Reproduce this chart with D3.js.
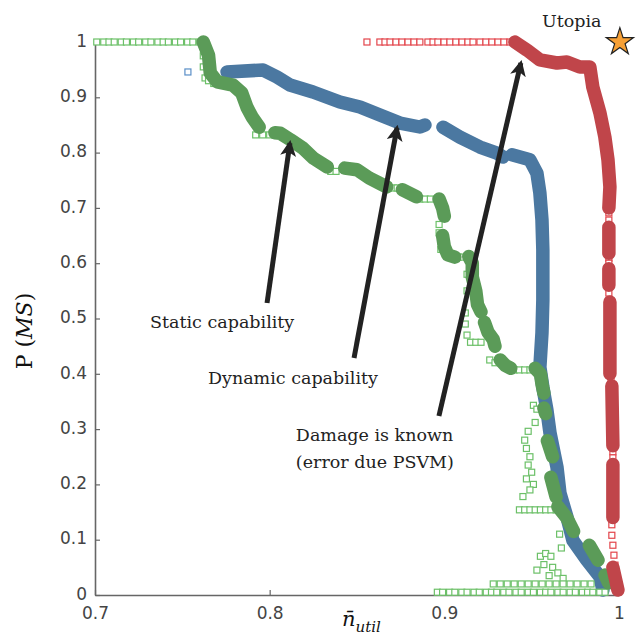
<!DOCTYPE html>
<html>
<head>
<meta charset="utf-8">
<script src="https://cdn.jsdelivr.net/npm/d3@7"></script>
<style>
html,body{margin:0;padding:0;background:#fff;}
svg{display:block;}
</style>
</head>
<body>
<svg id="chart" width="636" height="637"></svg>
<script>
// ---------------- DATA ----------------
const xTicks = [0.7, 0.8, 0.9, 1.0];
const xTickLabels = ["0.7", "0.8", "0.9", "1"];
const yTicks = [0, 0.1, 0.2, 0.3, 0.4, 0.5, 0.6, 0.7, 0.8, 0.9, 1.0];
const yTickLabels = ["0", "0.1", "0.2", "0.3", "0.4", "0.5", "0.6", "0.7", "0.8", "0.9", "1"];

// Static capability (green) – filled markers, null = gap
const staticX = [0.762,0.765,0.766,0.770,0.779,0.784,0.787,0.790,0.794,null,
  0.803,0.806,0.812,0.819,0.825,0.833,null,
  0.843,0.850,0.857,0.867,null,
  0.876,0.884,null,
  0.897,0.899,0.900,null,
  0.899,0.900,0.902,0.906,null,
  0.914,0.916,0.916,0.918,0.919,0.921,null,
  0.923,0.925,0.928,0.929,null,
  0.932,0.935,0.938,null,
  0.952,0.955,0.956,0.957,null,
  0.957,0.958,null,
  0.959,0.962,null,
  0.961,0.964,null,
  0.965,0.970,0.974,null,
  0.983,0.988,null,
  0.992,0.994];
const staticY = [1.000,0.976,0.944,0.928,0.922,0.908,0.882,0.864,0.846,null,
  0.836,0.835,0.823,0.808,0.790,0.774,null,
  0.772,0.769,0.754,0.738,null,
  0.733,0.720,null,
  0.716,0.700,0.685,null,
  0.650,0.630,0.615,0.611,null,
  0.612,0.600,0.575,0.550,0.525,0.512,null,
  0.493,0.475,0.462,0.450,null,
  0.425,0.415,0.410,null,
  0.410,0.400,0.380,0.365,null,
  0.338,0.328,null,
  0.279,0.250,null,
  0.213,0.177,null,
  0.160,0.140,0.115,null,
  0.090,0.063,null,
  0.036,0.022];

// Static capability – hollow markers
const staticHollowX = [0.701,0.705,0.708,0.711,0.715,0.718,0.722,0.725,0.729,0.732,0.736,0.739,0.742,0.746,0.749,0.753,0.756,0.760,
  0.762,0.762,0.763,0.765,0.768,
  0.792,0.796,0.800,
  0.835,0.838,
  0.868,0.871,0.873,
  0.886,0.889,0.892,
  0.897,0.897,0.898,0.898,
  0.908,0.910,
  0.913,0.913,0.912,0.912,0.913,0.915,0.918,0.921,
  0.926,0.929,
  0.940,0.943,0.946,0.949,
  0.951,0.953,0.952,0.948,0.946,0.947,0.949,0.948,0.950,0.947,0.951,0.949,0.945,
  0.943,0.946,0.949,0.952,0.955,0.958,0.961,0.964,
  0.966,0.967,
  0.955,0.958,0.961,0.957,0.962,0.960,0.965,0.968,0.953,
  0.928,0.932,0.936,0.940,0.944,0.948,0.952,0.956,0.960,0.964,0.968,0.972,0.976,0.980,0.984,
  0.896,0.899,0.903,0.906,0.910,0.913,0.917,0.920,0.924,0.927,0.930,0.934,0.937,0.941,0.944,0.948,0.951,0.955,0.958,0.961,0.965,0.968,0.972,0.975,0.979,0.982,0.985,0.989,0.992];
const staticHollowY = [1,1,1,1,1,1,1,1,1,1,1,1,1,1,1,1,1,1,
  0.975,0.955,0.935,0.930,0.925,
  0.832,0.832,0.832,
  0.766,0.766,
  0.736,0.736,0.736,
  0.716,0.716,0.716,
  0.670,0.655,0.640,0.625,
  0.611,0.611,
  0.580,0.550,0.510,0.490,0.470,0.457,0.457,0.457,
  0.425,0.420,
  0.407,0.407,0.407,0.407,
  0.343,0.336,0.312,0.296,0.280,0.265,0.250,0.235,0.222,0.210,0.200,0.190,0.178,
  0.154,0.154,0.154,0.154,0.154,0.154,0.154,0.154,
  0.110,0.085,
  0.070,0.075,0.070,0.055,0.050,0.035,0.040,0.030,0.045,
  0.020,0.020,0.020,0.020,0.020,0.020,0.020,0.020,0.020,0.020,0.020,0.020,0.020,0.020,0.020,
  0.005,0.005,0.005,0.005,0.005,0.005,0.005,0.005,0.005,0.005,0.005,0.005,0.005,0.005,0.005,0.005,0.005,0.005,0.005,0.005,0.005,0.005,0.005,0.005,0.005,0.005,0.005,0.005,0.005];

// Dynamic capability (blue) – filled markers
const dynamicX = [0.7756,0.7962,0.8042,0.8116,0.8248,0.8402,0.8517,0.8631,0.8746,0.8860,0.8889,null,
  0.8992,0.9089,0.9204,0.9301,0.9335,null,
  0.9387,0.9490,0.9530,0.9547,0.9559,0.9564,0.9564,0.9559,0.9547,0.9564,0.9587,0.9605,0.9645,0.9662,0.9702,0.9736,0.9816,0.9891,0.9908];
const dynamicY = [0.9458,0.9494,0.9367,0.9222,0.9096,0.8915,0.8825,0.8680,0.8535,0.8463,0.8500,null,
  0.846,0.828,0.810,0.799,0.792,null,
  0.796,0.787,0.763,0.727,0.678,0.624,0.533,0.474,0.412,0.376,0.335,0.293,0.231,0.184,0.141,0.099,0.063,0.033,0.009];
const dynamicHollowX = [0.7532];
const dynamicHollowY = [0.9458];

// Damage is known (red) – filled markers
const damageX = [0.9404,0.9473,0.9547,0.9645,0.9702,0.9776,0.9833,0.9850,0.9891,0.9919,0.9937,0.9948,0.9942,null,
  0.9942,0.9942,null,
  0.9942,0.9942,null,
  0.9948,0.9948,null,
  0.9959,0.9965,null,
  0.9965,0.9965,null,
  0.9965,0.9994];
const damageY = [1.000,0.9855,0.9675,0.9620,0.9638,0.9548,0.9548,0.9186,0.8716,0.8282,0.7866,0.7378,0.700,null,
  0.665,0.618,null,
  0.590,0.560,null,
  0.530,0.400,null,
  0.378,0.270,null,
  0.236,0.140,null,
  0.050,0.009];
// Damage is known – hollow markers
const damageHollowX = [0.8557,0.8631,0.8660,0.8689,0.8723,0.8757,0.8792,0.8826,0.8860,0.8906,0.8935,0.8963,0.8998,0.9032,0.9066,0.9101,0.9135,0.9164,0.9204,0.9238,0.9272,0.9307,0.9341,0.9376,
  0.9942,0.9942,0.9942,0.9942,0.9942,0.9954,0.9965,0.9965,0.9959,0.9959,0.9965,0.9971,0.9977];
const damageHollowY = [1,1,1,1,1,1,1,1,1,1,1,1,1,1,1,1,1,1,1,1,1,1,1,1,
  0.691,0.678,0.609,0.600,0.546,0.389,0.259,0.248,0.127,0.108,0.090,0.072,0.054];

// Utopia point
const utopiaX = [1.0005];
const utopiaY = [1.0];

// Annotations: text anchor (data coords) and arrow tail/tip (data coords)
const annotationTexts = [["Static capability"], ["Dynamic capability"], ["Damage is known", "(error due PSVM)"], ["Utopia"]];
const annotationTextX = [0.7315, 0.7647, 0.8150, 0.9559];
const annotationTextY = [0.483, 0.3816, 0.278, 1.027];
const arrowTailX = [0.7985, 0.8483, 0.8969];
const arrowTailY = [0.528, 0.4286, 0.3237];
const arrowTipX  = [0.8116, 0.8729, 0.9438];
const arrowTipY  = [0.817, 0.8445, 0.962];

// ---------------- DRAW ----------------
const svg = d3.select("#chart");
const x = d3.scaleLinear().domain([0.7, 1.0]).range([95, 619]);
const y = d3.scaleLinear().domain([0, 1]).range([595, 42]);

const GREEN = "#5b9b58", GREEN_H = "#6cc068";
const BLUE = "#4b78a1", BLUE_H = "#5a8fc7";
const RED = "#c0454a", RED_H = "#e3454b";

function pts(xs, ys) { return xs.map((v, i) => ({x: v, y: ys[i]})); }
const line = d3.line().defined(d => d.x != null && d.y != null).x(d => x(d.x)).y(d => y(d.y));

function filled(xs, ys, color) {
  svg.append("path").datum(pts(xs, ys))
    .attr("d", line)
    .attr("fill", "none").attr("stroke", color)
    .attr("stroke-width", 13.5).attr("stroke-linecap", "round").attr("stroke-linejoin", "round");
}
function hollow(xs, ys, color) {
  svg.append("g").selectAll("rect").data(pts(xs, ys)).join("rect")
    .attr("x", d => x(d.x) - 3).attr("y", d => y(d.y) - 3)
    .attr("width", 6).attr("height", 6)
    .attr("fill", "#fff").attr("stroke", color).attr("stroke-width", 1.2);
}

// axes
const axisColor = "#666";
const gx = svg.append("g").attr("transform", "translate(0,595)")
  .call(d3.axisBottom(x).tickValues(xTicks).tickFormat((d, i) => xTickLabels[i])
    .tickSizeInner(-5).tickSizeOuter(0).tickPadding(12));
const gy = svg.append("g").attr("transform", "translate(95,0)")
  .call(d3.axisLeft(y).tickValues(yTicks).tickFormat((d, i) => yTickLabels[i])
    .tickSizeInner(-5).tickSizeOuter(0).tickPadding(8));
[gx, gy].forEach(g => {
  g.select(".domain").attr("stroke", axisColor).attr("stroke-width", 1.6);
  g.selectAll(".tick line").attr("stroke", axisColor).attr("stroke-width", 1.2);
  g.selectAll(".tick text").attr("fill", "#444")
    .style("font-family", "'DejaVu Sans', sans-serif").style("font-size", "17px");
});
gy.selectAll(".tick text").attr("dy", "0.25em");

// series
filled(dynamicX, dynamicY, BLUE);
hollow(dynamicHollowX, dynamicHollowY, BLUE_H);
hollow(staticHollowX, staticHollowY, GREEN_H);
filled(staticX, staticY, GREEN);
hollow(damageHollowX, damageHollowY, RED_H);
filled(damageX, damageY, RED);

// utopia star
svg.append("g").selectAll("path").data(pts(utopiaX, utopiaY)).join("path")
  .attr("transform", d => `translate(${x(d.x)},${y(d.y)})`)
  .attr("d", d3.symbol(d3.symbolStar, 230))
  .attr("fill", "#f7a035").attr("stroke", "#222").attr("stroke-width", 1.2);

// arrows
const defs = svg.append("defs");
defs.append("marker").attr("id", "ah")
  .attr("viewBox", "0 0 10 10").attr("refX", 8).attr("refY", 5)
  .attr("markerWidth", 3.2).attr("markerHeight", 3.2)
  .attr("markerUnits", "strokeWidth")
  .attr("orient", "auto")
  .append("path").attr("d", "M0,0 L10,5 L0,10 L2.5,5 Z").attr("fill", "#222");
arrowTailX.forEach((tx, i) => {
  svg.append("line")
    .attr("x1", x(tx)).attr("y1", y(arrowTailY[i]))
    .attr("x2", x(arrowTipX[i])).attr("y2", y(arrowTipY[i]))
    .attr("stroke", "#222").attr("stroke-width", 5)
    .attr("marker-end", "url(#ah)");
});

// annotation texts
annotationTexts.forEach((lines, i) => {
  const t = svg.append("text")
    .attr("x", x(annotationTextX[i])).attr("y", y(annotationTextY[i]))
    .attr("fill", "#222")
    .style("font-family", "'DejaVu Serif', serif").style("font-size", "17.5px");
  lines.forEach((l, j) => {
    t.append("tspan").attr("x", x(annotationTextX[i])).attr("dy", j === 0 ? 0 : 27).text(l);
  });
});

// axis titles
const yl = svg.append("text")
  .attr("transform", "translate(32,331) rotate(-90)")
  .attr("text-anchor", "middle").attr("fill", "#111")
  .style("font-family", "'DejaVu Serif', serif").style("font-size", "22px");
yl.append("tspan").text("P (");
yl.append("tspan").style("font-style", "italic").text("MS");
yl.append("tspan").text(")");

const xl = svg.append("text")
  .attr("x", 342).attr("y", 626).attr("fill", "#111")
  .style("font-family", "'DejaVu Serif', serif").style("font-style", "italic").style("font-size", "21px");
xl.append("tspan").text("n\u0304");
xl.append("tspan").attr("dy", 6).style("font-size", "15px").text("util");
</script>
</body>
</html>
